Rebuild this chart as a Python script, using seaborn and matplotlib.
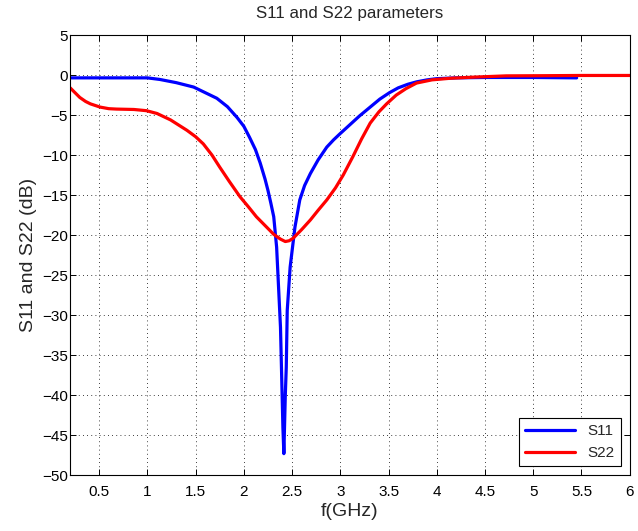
import pandas as pd
import matplotlib
matplotlib.use("Agg")
import matplotlib.pyplot as plt
import seaborn as sns

# S11 readings (GHz, dB)
s11_freq = [0.2, 0.6, 1.0, 1.13, 1.3, 1.48, 1.6, 1.72, 1.83, 1.93, 2.0, 2.06, 2.12, 2.17,
            2.22, 2.25, 2.28, 2.31, 2.34, 2.36, 2.38, 2.39, 2.405, 2.415, 2.43, 2.44, 2.45,
            2.48, 2.53, 2.58, 2.63, 2.69, 2.77, 2.86, 2.93, 3.0, 3.1, 3.2, 3.31, 3.41,
            3.51, 3.6, 3.7, 3.79, 3.9, 4.0, 4.2, 4.5, 5.0, 5.45]
s11_db = [-0.35, -0.35, -0.35, -0.55, -0.95, -1.5, -2.2, -2.9, -3.95, -5.3, -6.4, -7.8,
          -9.3, -11.0, -13.0, -14.4, -16.0, -17.7, -21.5, -26.5, -31.5, -36.5, -44.0, -47.3,
          -40.0, -36.5, -29.4, -24.0, -19.0, -15.6, -13.8, -12.3, -10.6, -9.0, -8.1, -7.3,
          -6.2, -5.1, -4.0, -3.0, -2.2, -1.6, -1.15, -0.85, -0.6, -0.45, -0.35, -0.3, -0.3, -0.35]

# S22 readings (GHz, dB)
s22_freq = [0.2, 0.25, 0.3, 0.36, 0.41, 0.51, 0.6, 0.68, 0.86, 0.99, 1.1, 1.24, 1.41,
            1.5, 1.58, 1.67, 1.75, 1.85, 1.96, 2.05, 2.13, 2.22, 2.31, 2.38, 2.43, 2.47,
            2.51, 2.6, 2.69, 2.77, 2.86, 2.95, 3.03, 3.13, 3.22, 3.31, 3.4, 3.48, 3.58,
            3.68, 3.79, 3.95, 4.14, 4.4, 4.72, 5.1, 5.5, 6.0]
s22_db = [-1.6, -2.2, -2.8, -3.3, -3.6, -4.0, -4.2, -4.25, -4.3, -4.45, -4.8, -5.6, -6.9,
          -7.7, -8.6, -10.0, -11.5, -13.3, -15.2, -16.5, -17.7, -18.8, -19.9, -20.5, -20.8,
          -20.7, -20.4, -19.3, -18.1, -16.9, -15.6, -14.1, -12.5, -10.2, -8.0, -6.0, -4.6,
          -3.6, -2.5, -1.7, -1.0, -0.6, -0.4, -0.25, -0.1, -0.08, -0.05, -0.05]

x_ticks = [0.5, 1, 1.5, 2, 2.5, 3, 3.5, 4, 4.5, 5, 5.5, 6]
x_ticklabels = ["0.5", "1", "1.5", "2", "2.5", "3", "3.5", "4", "4.5", "5", "5.5", "6"]
y_ticks = [5, 0, -5, -10, -15, -20, -25, -30, -35, -40, -45, -50]

df = pd.concat([
    pd.DataFrame({"f": s11_freq, "dB": s11_db, "param": "S11"}),
    pd.DataFrame({"f": s22_freq, "dB": s22_db, "param": "S22"}),
], ignore_index=True)

sns.set_style("white")
plt.rcParams["font.family"] = ["Liberation Sans", "DejaVu Sans"]

fig = plt.figure(figsize=(6.38, 5.31), dpi=100)
ax = fig.add_axes([0.110, 0.105, 0.877, 0.829])

sns.lineplot(data=df, x="f", y="dB", hue="param", palette={"S11": "#0000ff", "S22": "#ff0000"},
             linewidth=2.3, sort=False, estimator=None, ax=ax)

ax.set_xlim(0.2, 6)
ax.set_ylim(-50, 5)
ax.set_xticks(x_ticks)
ax.set_xticklabels(x_ticklabels)
ax.set_yticks(y_ticks)
ax.set_yticklabels([str(v).replace("-", "\u2212") for v in y_ticks])
ax.tick_params(direction="in", length=4, width=0.7, labelsize=11, top=True, right=True,
               bottom=True, left=True, colors="black")
ax.tick_params(axis="x", pad=7)
ax.tick_params(axis="y", pad=1.5)
ax.grid(True, linestyle=(0, (1, 4)), color="black", linewidth=0.6)
for s in ax.spines.values():
    s.set_color("black")
    s.set_linewidth(0.8)

ax.set_title("S11 and S22 parameters", fontsize=12.2, pad=12)
ax.set_xlabel("f(GHz)", fontsize=14, labelpad=3)
ax.set_ylabel("S11 and S22 (dB)", fontsize=14, labelpad=4)

leg = ax.legend(loc="lower right", fontsize=11, handlelength=3.3, fancybox=False,
                framealpha=1, edgecolor="black", borderaxespad=0.6)
leg.get_frame().set_linewidth(0.8)

fig.savefig("out.png", dpi=100)
